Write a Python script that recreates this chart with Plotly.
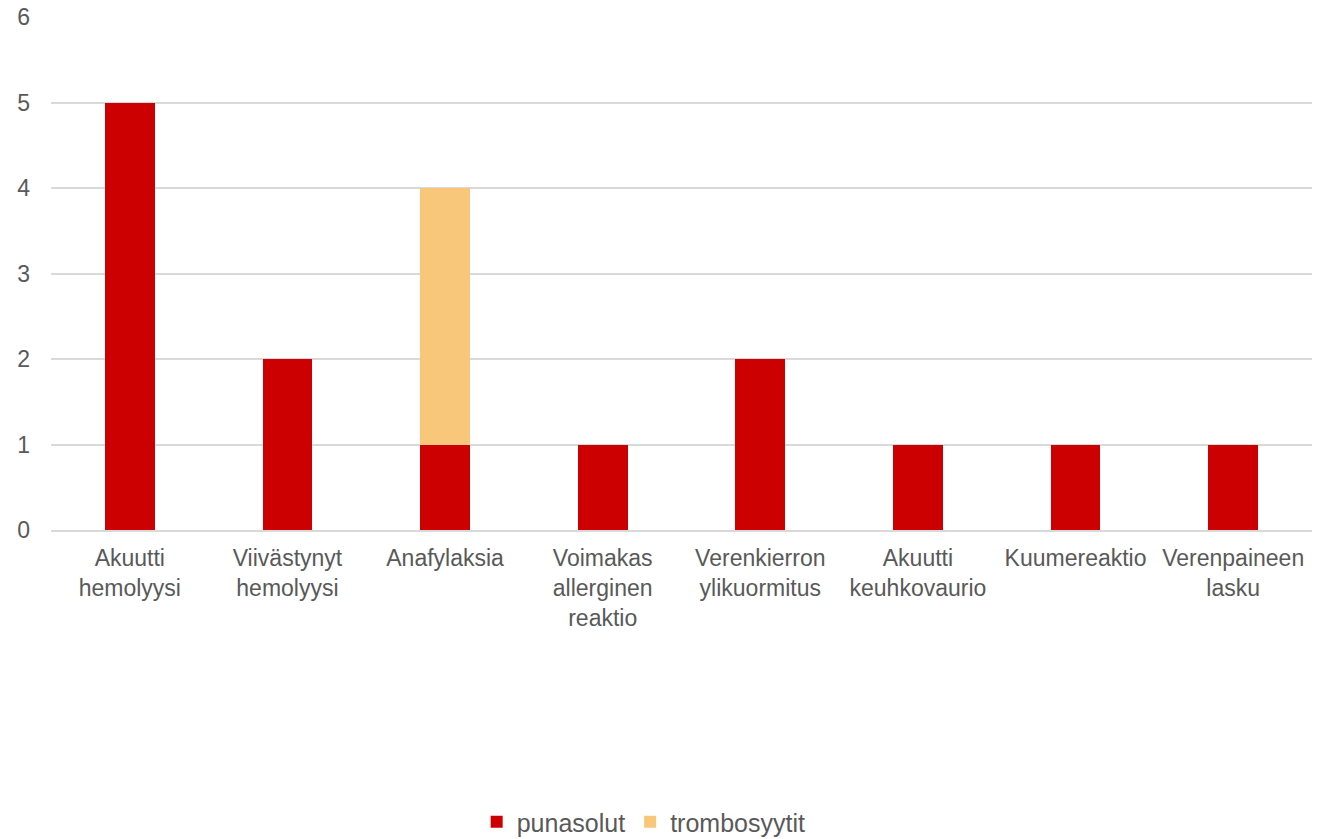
import plotly.graph_objects as go

categories = ["Akuutti<br>hemolyysi", "Viivästynyt<br>hemolyysi", "Anafylaksia",
              "Voimakas<br>allerginen<br>reaktio", "Verenkierron<br>ylikuormitus",
              "Akuutti<br>keuhkovaurio", "Kuumereaktio", "Verenpaineen<br>lasku"]
punasolut = [5, 2, 1, 1, 2, 1, 1, 1]
trombosyytit = [0, 0, 3, 0, 0, 0, 0, 0]

fam = "Arial, Liberation Sans, sans-serif"
font = dict(family=fam, size=23, color="#595959")

fig = go.Figure()
fig.add_bar(x=categories, y=punasolut, name="punasolut", marker_color="#CC0000",
            marker_line_width=0)
fig.add_bar(x=categories, y=trombosyytit, name="trombosyytit", marker_color="#F8C77A",
            marker_line_width=0)

fig.update_layout(
    barmode="stack",
    bargap=0.685,
    width=1332, height=839,
    margin=dict(l=51, r=20, t=17, b=309, autoexpand=False),
    paper_bgcolor="white", plot_bgcolor="white",
    font=font,
    showlegend=True,
    legend=dict(orientation="h", x=0.47, xanchor="center", xref="paper",
                y=(839 - 822) / 839, yref="container", yanchor="middle",
                traceorder="normal",
                font=dict(family=fam, size=25, color="#595959"),
                itemwidth=30, tracegroupgap=0),
    xaxis=dict(showgrid=False, showline=True, linecolor="#D9D9D9", linewidth=1.5,
               ticks="", tickfont=font, ticklabelstandoff=7),
    yaxis=dict(range=[0, 6.004], tickvals=[0, 1, 2, 3, 4, 5, 6], showgrid=True,
               gridcolor="#D9D9D9", gridwidth=1.5,
               zeroline=False, showline=False, ticks="", tickfont=font,
               ticklabelstandoff=20),
)

fig.write_html("out.html")
